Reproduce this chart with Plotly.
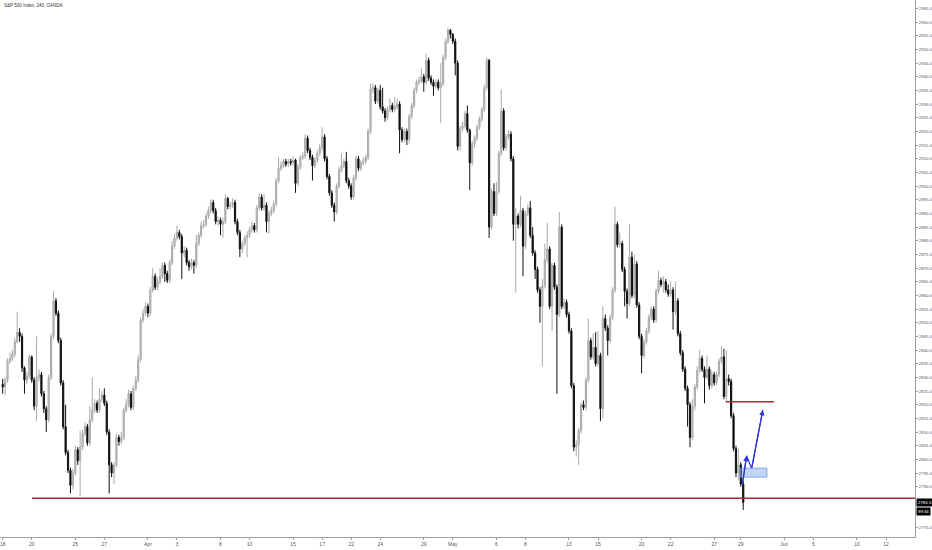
import pandas as pd
import plotly.graph_objects as go

title_text = "S&P 500 Index, 240, OANDA"

opens = [
    2827.5, 2826.5, 2829, 2836, 2837, 2838.5, 2843, 2846.5, 2845, 2833.5,
    2829, 2830.5, 2837.5, 2829, 2819.5, 2830, 2831, 2824, 2818.5, 2814.5,
    2830, 2845, 2858, 2853.5, 2843.5, 2828, 2812, 2802.5, 2796, 2790.5,
    2795, 2803.5, 2799.5, 2804.5, 2809.5, 2812, 2806, 2814.5, 2818, 2820.5,
    2818, 2822, 2823.5, 2820.5, 2810, 2798, 2795, 2798, 2808, 2806.5,
    2808, 2818, 2820, 2824, 2819, 2826, 2829, 2836.5, 2851, 2853.5,
    2856, 2853.5, 2862, 2867, 2863, 2865, 2867, 2871, 2868, 2865.5,
    2872, 2878, 2881, 2883, 2881.5, 2875.5, 2876.5, 2872, 2870.5, 2872,
    2871, 2879, 2882, 2885.5, 2886, 2889, 2891, 2894, 2891, 2887,
    2887.5, 2886, 2887, 2895.5, 2892.5, 2893, 2894, 2887, 2883, 2877,
    2879, 2881, 2882, 2884, 2885.5, 2884, 2892, 2896, 2892, 2893,
    2887, 2890, 2891, 2893.5, 2902, 2906.5, 2907.5, 2909, 2908, 2909,
    2908.5, 2909.5, 2901, 2907, 2910.5, 2911, 2917.5, 2913, 2910.5, 2907.5,
    2909.5, 2912, 2914, 2918, 2910, 2903.5, 2897.5, 2893, 2890.5, 2900,
    2906, 2907.5, 2909, 2902, 2900, 2896, 2903, 2910, 2906.5, 2908.5,
    2909, 2910.5, 2920, 2935.5, 2936, 2931, 2935, 2929, 2927.5, 2925,
    2928, 2929.5, 2928, 2929, 2930, 2920.5, 2917, 2920, 2917, 2925.5,
    2929.5, 2935, 2938, 2938.5, 2940, 2938, 2946, 2939.5, 2938, 2936.5,
    2938, 2936, 2937.5, 2947, 2953, 2957, 2955.5, 2953, 2945, 2914.5,
    2921, 2922, 2926.5, 2920.5, 2908.5, 2915.5, 2917.5, 2921.5, 2924.5, 2928,
    2936, 2946, 2885, 2898, 2890, 2898, 2912, 2927.5, 2914, 2918,
    2919, 2910, 2886, 2889, 2886, 2891, 2878, 2890, 2892, 2882,
    2875.5, 2869.5, 2862, 2856, 2863.5, 2873, 2877, 2856, 2871, 2863,
    2853, 2885, 2856, 2857.5, 2853, 2847, 2827, 2804.5, 2805.5, 2810.5,
    2820, 2819, 2829, 2843.5, 2837.5, 2841, 2835, 2838, 2818.5, 2851.5,
    2848, 2843.5, 2852, 2862, 2886, 2878.5, 2879, 2869.5, 2861.5, 2857,
    2874, 2860, 2871.5, 2856.5, 2845, 2838, 2843, 2847, 2852, 2855,
    2851, 2861.5, 2865.5, 2864, 2865, 2862, 2860.5, 2862, 2854, 2858,
    2846, 2839, 2833, 2826, 2820, 2808, 2819.5, 2826.5, 2832.5, 2837,
    2833, 2830, 2833, 2827, 2831, 2828, 2831, 2836, 2837.5, 2823,
    2829.5, 2828.5, 2816, 2804, 2795, 2798, 2791,
]

closes = [
    2826.5, 2829, 2836, 2837, 2838.5, 2843, 2846.5, 2845, 2833.5, 2829,
    2830.5, 2837.5, 2829, 2819.5, 2830, 2831, 2824, 2818.5, 2814.5, 2830,
    2845, 2858, 2853.5, 2843.5, 2828, 2812, 2802.5, 2796, 2790.5, 2795,
    2803.5, 2799.5, 2804.5, 2809.5, 2812, 2806, 2814.5, 2818, 2820.5, 2818,
    2822, 2823.5, 2820.5, 2810, 2798, 2795, 2798, 2808, 2806.5, 2808,
    2818, 2820, 2824, 2819, 2826, 2829, 2836.5, 2851, 2853.5, 2856,
    2853.5, 2862, 2867, 2863, 2865, 2867, 2871, 2868, 2865.5, 2872,
    2878, 2881, 2883, 2881.5, 2875.5, 2876.5, 2872, 2870.5, 2872, 2871,
    2879, 2882, 2885.5, 2886, 2889, 2891, 2894, 2891, 2887, 2887.5,
    2886, 2887, 2895.5, 2892.5, 2893, 2894, 2887, 2883, 2877, 2879,
    2881, 2882, 2884, 2885.5, 2884, 2892, 2896, 2892, 2893, 2887,
    2890, 2891, 2893.5, 2902, 2906.5, 2907.5, 2909, 2908, 2909, 2908.5,
    2909.5, 2901, 2907, 2910.5, 2911, 2917.5, 2913, 2910.5, 2907.5, 2909.5,
    2912, 2914, 2918, 2910, 2903.5, 2897.5, 2893, 2890.5, 2900, 2906,
    2907.5, 2909, 2902, 2900, 2896, 2903, 2910, 2906.5, 2908.5, 2909,
    2910.5, 2920, 2935.5, 2936, 2931, 2935, 2929, 2927.5, 2925, 2928,
    2929.5, 2928, 2929, 2930, 2920.5, 2917, 2920, 2917, 2925.5, 2929.5,
    2935, 2938, 2938.5, 2940, 2938, 2946, 2939.5, 2938, 2936.5, 2938,
    2936, 2937.5, 2947, 2953, 2957, 2955.5, 2953, 2945, 2914.5, 2921,
    2922, 2926.5, 2920.5, 2908.5, 2915.5, 2917.5, 2921.5, 2924.5, 2928, 2936,
    2946, 2885, 2898, 2890, 2898, 2912, 2927.5, 2914, 2918, 2919,
    2910, 2886, 2889, 2886, 2891, 2878, 2890, 2892, 2882, 2875.5,
    2869.5, 2862, 2856, 2863.5, 2873, 2877, 2856, 2871, 2863, 2853,
    2885, 2856, 2857.5, 2853, 2847, 2827, 2804.5, 2805.5, 2810.5, 2820,
    2819, 2829, 2843.5, 2837.5, 2841, 2835, 2838, 2818.5, 2851.5, 2848,
    2843.5, 2852, 2862, 2886, 2878.5, 2879, 2869.5, 2861.5, 2857, 2874,
    2860, 2871.5, 2856.5, 2845, 2838, 2843, 2847, 2852, 2855, 2851,
    2861.5, 2865.5, 2864, 2865, 2862, 2860.5, 2862, 2854, 2858, 2846,
    2839, 2833, 2826, 2820, 2808, 2819.5, 2826.5, 2832.5, 2837, 2833,
    2830, 2833, 2827, 2831, 2828, 2831, 2836, 2837.5, 2823, 2829.5,
    2828.5, 2816, 2804, 2795, 2798, 2791, 2784.3,
]

highs = [
    2829.5, 2830, 2837, 2839, 2840, 2844.5, 2854, 2848, 2846, 2834,
    2832, 2838.5, 2838, 2830, 2845, 2833, 2832, 2825, 2819.5, 2831,
    2846, 2861.5, 2859, 2854.5, 2844.5, 2829, 2820, 2803.5, 2797, 2796.5,
    2805, 2804.5, 2810.5, 2811, 2813.5, 2813, 2819.5, 2830, 2822, 2821.5,
    2826, 2825, 2826, 2821.5, 2811, 2799, 2799, 2809.5, 2809, 2810,
    2819, 2822, 2825.5, 2825, 2827, 2830.5, 2838, 2852, 2855, 2857.5,
    2857, 2863, 2870, 2868, 2866.5, 2870, 2872, 2872, 2869, 2873,
    2880, 2882.5, 2885.5, 2884, 2882.5, 2878, 2877.5, 2873, 2873.5, 2873,
    2882, 2883, 2887, 2887.5, 2890, 2892.5, 2895, 2895, 2892, 2889,
    2888.5, 2888.5, 2897, 2896, 2894.5, 2895.5, 2895, 2888, 2884, 2880,
    2882, 2883.5, 2885, 2887, 2886.5, 2893, 2897.5, 2897, 2897, 2894,
    2891, 2892.5, 2894.5, 2903, 2910.5, 2909, 2910, 2910, 2910, 2910,
    2911, 2910, 2908, 2911.5, 2912.5, 2919, 2918.5, 2914, 2911.5, 2910.5,
    2913, 2915.5, 2921.5, 2919, 2911, 2904.5, 2898.5, 2894, 2901, 2907,
    2912, 2910, 2912.5, 2903, 2901, 2904, 2911, 2911, 2909.5, 2910.5,
    2911.5, 2921, 2937.5, 2937.5, 2937, 2936, 2937, 2936, 2928.5, 2929,
    2932, 2930.5, 2932.5, 2932, 2931, 2921.5, 2921, 2921, 2926.5, 2930.5,
    2936, 2939, 2940, 2943, 2941, 2948.5, 2947, 2940.5, 2939, 2939,
    2939, 2945, 2948, 2954, 2958, 2957.5, 2956, 2954, 2946, 2922,
    2923.5, 2927.5, 2929.5, 2921, 2916.5, 2918.5, 2922.5, 2925.5, 2929, 2937,
    2947, 2946.5, 2899, 2901, 2901.5, 2913, 2935.5, 2928.5, 2919, 2920.5,
    2920, 2911, 2892, 2890, 2896.5, 2892, 2891, 2893.5, 2894.5, 2885,
    2876.5, 2870.5, 2863, 2866, 2879, 2886.5, 2878, 2872, 2872, 2864,
    2890.5, 2886, 2859, 2858.5, 2854, 2848, 2828, 2807, 2811.5, 2821,
    2821.5, 2830, 2851.5, 2844.5, 2846, 2846.5, 2847, 2839, 2856, 2853,
    2849, 2853, 2863, 2892.5, 2887, 2883, 2880, 2870.5, 2862.5, 2886,
    2876, 2875, 2872.5, 2857.5, 2846, 2844, 2848, 2853, 2856, 2856,
    2862.5, 2869, 2866.5, 2867, 2866, 2864, 2865, 2863, 2865, 2859,
    2847, 2840, 2834, 2827, 2821, 2822, 2827.5, 2834, 2840, 2838,
    2834, 2838, 2834, 2832.5, 2832, 2832, 2837, 2841.5, 2840.5, 2840,
    2831, 2829.5, 2817, 2805, 2804, 2799, 2792,
]

lows = [
    2824, 2823.5, 2828, 2835, 2836, 2837.5, 2842.5, 2843, 2832, 2824,
    2827.5, 2829.5, 2828, 2818, 2814, 2828.5, 2823, 2817, 2810, 2813.5,
    2829, 2844, 2852.5, 2842.5, 2827, 2811, 2801.5, 2795, 2787.5, 2789,
    2794, 2798, 2786.5, 2803.5, 2808.5, 2805, 2805, 2813.5, 2817, 2817,
    2817, 2821, 2819.5, 2809, 2787.5, 2793.5, 2791, 2797, 2805, 2805.5,
    2807, 2817, 2819, 2818, 2818, 2825, 2828, 2835.5, 2850, 2852.5,
    2852, 2852.5, 2861, 2862, 2862, 2864, 2866, 2865, 2864.5, 2864.5,
    2871, 2877, 2880, 2880.5, 2866, 2874, 2871, 2869, 2869.5, 2868,
    2870, 2878, 2881, 2884.5, 2885, 2888, 2890, 2890, 2886, 2885.5,
    2882, 2881, 2886, 2891.5, 2891.5, 2892, 2886, 2882, 2874, 2875.5,
    2878, 2874, 2881, 2883, 2883, 2883, 2891, 2891, 2891, 2883,
    2882.5, 2889, 2890, 2892.5, 2901, 2905.5, 2906.5, 2907, 2907, 2907.5,
    2907.5, 2897.5, 2900, 2906, 2909.5, 2910, 2912, 2909.5, 2902, 2906.5,
    2908.5, 2911, 2913, 2909, 2902.5, 2896.5, 2892, 2887, 2889.5, 2899,
    2905, 2906.5, 2901, 2899, 2895, 2895, 2902, 2905.5, 2905.5, 2907.5,
    2908, 2909.5, 2919, 2934, 2930, 2930, 2928, 2926.5, 2923.5, 2924,
    2927, 2927, 2927, 2928, 2912, 2916, 2916, 2915, 2915.5, 2924.5,
    2928.5, 2934, 2937, 2937.5, 2934.5, 2937, 2938.5, 2937, 2933, 2935.5,
    2935, 2923, 2936.5, 2946, 2952, 2954, 2952, 2940.5, 2913, 2913,
    2920, 2921, 2919.5, 2898.5, 2907.5, 2914, 2916.5, 2920.5, 2923.5, 2927,
    2935, 2881, 2884, 2889, 2889, 2897, 2911, 2913, 2913, 2917,
    2909, 2880, 2861, 2884.5, 2885, 2867, 2877, 2889, 2881, 2874.5,
    2866, 2861, 2850, 2834, 2862.5, 2872, 2855, 2847, 2862, 2824,
    2852, 2855, 2855, 2852, 2846, 2826, 2803, 2801, 2798, 2809.5,
    2818, 2818, 2828, 2836.5, 2836.5, 2834, 2834, 2814, 2815, 2847,
    2838, 2842.5, 2851, 2861, 2877.5, 2877.5, 2868.5, 2856, 2851.5, 2856,
    2859, 2859, 2855.5, 2844, 2831.5, 2837, 2842, 2846, 2851, 2850,
    2850, 2860.5, 2863, 2861, 2861, 2859.5, 2859.5, 2847.5, 2853, 2845,
    2838, 2832, 2825, 2812, 2804.5, 2807, 2818, 2825.5, 2831.5, 2832,
    2820.5, 2829, 2825.5, 2826, 2827, 2827, 2830, 2835, 2822, 2821,
    2827, 2815, 2803, 2793.5, 2792.5, 2790, 2781.5,
]

# price-axis labels (those hidden under the last-price / countdown boxes are left out)
price_ticks = [2775.0] + [2790.0 + 5 * k for k in range(36)]

# x-axis calendar (4h bars, 6 per session; Good Friday closed, Memorial Day short)
first_day = "2019-03-18"
last_day = "2019-06-14"
closed_days = ["2019-04-19"]
short_days = {"2019-05-27": 5}
tick_dates = ["2019-03-18", "2019-03-20", "2019-03-25", "2019-03-27", "2019-04-01",
              "2019-04-03", "2019-04-08", "2019-04-10", "2019-04-15", "2019-04-17",
              "2019-04-22", "2019-04-24", "2019-04-29", "2019-05-01", "2019-05-06",
              "2019-05-08", "2019-05-13", "2019-05-15", "2019-05-20", "2019-05-22",
              "2019-05-27", "2019-05-29", "2019-06-03", "2019-06-05", "2019-06-10",
              "2019-06-12"]
tick_text = ["18", "20", "25", "27", "Apr", "3", "8", "10", "15", "17", "22", "24",
             "29", "May", "6", "8", "13", "15", "20", "22", "27", "29", "Jun", "5",
             "10", "12"]

# drawings
support_level = 2785.8
resistance_level = 2821.1
zone_low, zone_high = 2793.5, 2796.8
arrow_prices = [2790.6, 2801.3, 2796.7, 2818.1]
last_price_text = "2784.3"
countdown_text = "99:34"

days = pd.bdate_range(first_day, last_day)
days = days[~days.isin(pd.to_datetime(closed_days))]
day_start = {}
k = 0
for d in days:
    day_start[d.strftime("%Y-%m-%d")] = k
    k += short_days.get(d.strftime("%Y-%m-%d"), 6)
tickvals = [day_start[d] for d in tick_dates]

n = min(len(opens), len(highs), len(lows), len(closes))
x = list(range(n))

fig = go.Figure()
fig.add_trace(go.Candlestick(
    x=x, open=opens[:n], high=highs[:n], low=lows[:n], close=closes[:n],
    increasing=dict(line=dict(color="#a9a9a9", width=1), fillcolor="#c9c9c9"),
    decreasing=dict(line=dict(color="#111111", width=1), fillcolor="#000000"),
    whiskerwidth=0, showlegend=False, hoverinfo="skip",
))

red = "#a8283d"
fig.add_shape(type="line", xref="x", yref="y", x0=12.1, x1=376.98, y0=support_level,
              y1=support_level, line=dict(color=red, width=1.5))
fig.add_shape(type="line", xref="x", yref="y", x0=298.8, x1=318.7, y0=resistance_level,
              y1=resistance_level, line=dict(color=red, width=1.5))
fig.add_shape(type="rect", xref="x", yref="y", x0=304.7, x1=315.8, y0=zone_low, y1=zone_high,
              fillcolor="rgba(120,160,235,0.45)", line=dict(color="rgba(110,150,230,0.8)", width=1))

arrow_x = [305.6, 307.4, 309.5, 314.1]
blue = "#2b35d8"
fig.add_trace(go.Scatter(x=arrow_x, y=arrow_prices, mode="lines",
                         line=dict(color=blue, width=1.2), showlegend=False, hoverinfo="skip"))
for i in (0, 2):
    fig.add_annotation(x=arrow_x[i + 1], y=arrow_prices[i + 1], ax=arrow_x[i], ay=arrow_prices[i],
                       xref="x", yref="y", axref="x", ayref="y", text="", showarrow=True,
                       arrowhead=2, arrowsize=0.9, arrowwidth=1.2, arrowcolor=blue)

fig.add_annotation(x=0.002, y=0.998, xref="paper", yref="paper", xanchor="left", yanchor="top",
                   text=title_text, showarrow=False,
                   font=dict(family="Liberation Sans", size=4.5, color="#333333"))
fig.add_annotation(x=1, y=float(last_price_text), xref="paper", yref="y", xanchor="left",
                   yanchor="middle", xshift=1, text=last_price_text, showarrow=False,
                   bgcolor="#000000", font=dict(family="Liberation Sans", size=4.3, color="#ffffff"),
                   borderpad=1)
fig.add_annotation(x=1, y=float(last_price_text), xref="paper", yref="y", xanchor="left",
                   yanchor="middle", xshift=1, yshift=-9, text=countdown_text, showarrow=False,
                   bgcolor="#000000", font=dict(family="Liberation Sans", size=4.3, color="#ffffff"),
                   borderpad=1)

fig.update_layout(
    width=932, height=550,
    margin=dict(l=0, r=17, t=0, b=13, autoexpand=False),
    paper_bgcolor="#ffffff", plot_bgcolor="#ffffff",
    xaxis=dict(range=[-1.116, 376.98], rangeslider=dict(visible=False), showgrid=False,
               zeroline=False, tickvals=tickvals, ticktext=tick_text, ticks="outside",
               ticklen=2, tickcolor="#9a9a9a", showline=True, linecolor="#a0a0a0", linewidth=1,
               ticklabeloverflow="allow",
               tickfont=dict(family="Liberation Sans", size=5, color="#555555")),
    yaxis=dict(side="right", range=[2771.6, 2968.07], tickvals=price_ticks, tickformat=".1f",
               showgrid=False, zeroline=False, ticks="outside", ticklen=2, tickcolor="#9a9a9a",
               showline=True, linecolor="#a0a0a0", linewidth=1,
               tickfont=dict(family="Liberation Sans", size=4.3, color="#555555")),
)

fig.write_html("out.html", config={"displayModeBar": False},
               post_script="document.body.style.margin='0';document.body.style.overflow='hidden';")
